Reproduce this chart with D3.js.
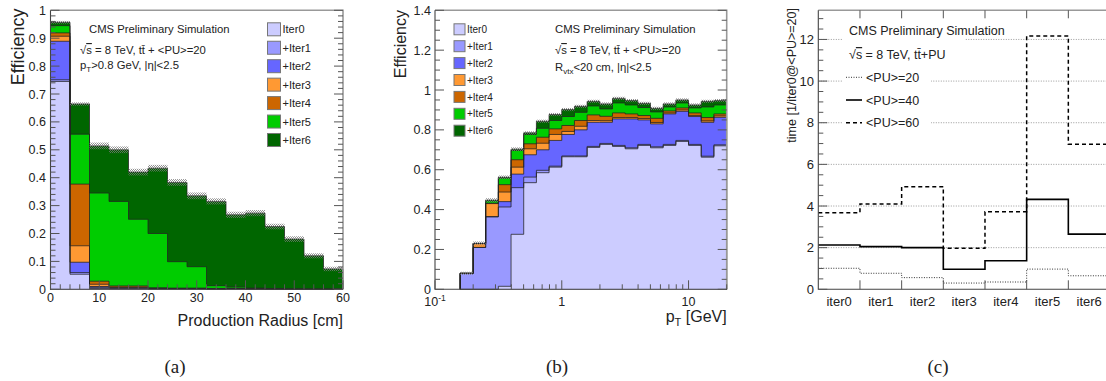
<!DOCTYPE html>
<html><head><meta charset="utf-8">
<script src="https://cdn.jsdelivr.net/npm/d3@7"></script>
<style>
html,body{margin:0;padding:0;background:#fff;}
svg{display:block;}
text{font-family:"Liberation Sans",Arial,Helvetica,sans-serif;fill:#222;}
</style></head><body>
<svg id="chart" width="1106" height="381"></svg>
<script>
// ================= DATA =================
const iterNames = ["Iter0","+Iter1","+Iter2","+Iter3","+Iter4","+Iter5","+Iter6"];

// ---- Panel (a): cumulative efficiency vs production radius (bins of 4 cm) ----
const aEdges = [0,4,8,12,16,20,24,28,32,36,40,44,48,52,56,60];
const aIter0 = [0.745,0.054,0.003,0.002,0.002,0.001,0.001,0.001,0.0005,0.001,0.0005,0,0,0,0];
const aIter1 = [0.751,0.060,0.007,0.004,0.004,0.002,0.002,0.002,0.001,0.002,0.001,0.0005,0,0,0];
const aIter2 = [0.889,0.097,0.010,0.006,0.006,0.003,0.003,0.003,0.002,0.003,0.002,0.001,0,0,0];
const aIter3 = [0.907,0.156,0.018,0.008,0.008,0.004,0.003,0.003,0.002,0.003,0.002,0.001,0,0,0];
const aIter4 = [0.919,0.377,0.029,0.012,0.012,0.005,0.004,0.004,0.003,0.004,0.002,0.001,0,0,0];
const aIter5 = [0.945,0.556,0.345,0.315,0.251,0.200,0.099,0.081,0.013,0.009,0.004,0.002,0.001,0,0];
const aIter6 = [0.957,0.664,0.514,0.500,0.420,0.434,0.383,0.335,0.315,0.267,0.273,0.225,0.180,0.120,0.073];
const aErr   = [0.005,0.006,0.012,0.012,0.012,0.012,0.012,0.012,0.011,0.011,0.011,0.010,0.010,0.009,0.008];

// ---- Panel (b): cumulative efficiency vs pT (log bins) ----
const bEdges = [0.158,0.2,0.251,0.316,0.398,0.501,0.631,0.794,1,1.259,1.585,1.995,2.512,3.162,3.981,5.012,6.31,7.943,10,12.59,15.85,19.95];
const bIter0 = [0,0,0,0.015,0.276,0.535,0.585,0.613,0.665,0.665,0.712,0.727,0.717,0.705,0.722,0.710,0.722,0.742,0.722,0.663,0.720];
const bIter1 = [0.080,0.210,0.363,0.413,0.510,0.563,0.597,0.618,0.669,0.669,0.717,0.732,0.722,0.710,0.727,0.715,0.727,0.747,0.727,0.668,0.725];
const bIter2 = [0.080,0.210,0.365,0.440,0.578,0.675,0.700,0.747,0.777,0.800,0.838,0.838,0.855,0.855,0.850,0.830,0.880,0.893,0.867,0.838,0.863];
const bIter3 = [0.080,0.230,0.430,0.488,0.613,0.705,0.733,0.777,0.792,0.818,0.847,0.846,0.862,0.862,0.857,0.837,0.885,0.900,0.872,0.845,0.870];
const bIter4 = [0.080,0.230,0.432,0.525,0.650,0.730,0.763,0.805,0.822,0.847,0.875,0.868,0.885,0.880,0.872,0.858,0.895,0.910,0.885,0.862,0.880];
const bIter5 = [0.080,0.230,0.444,0.558,0.697,0.777,0.808,0.847,0.867,0.888,0.920,0.905,0.935,0.925,0.912,0.890,0.915,0.935,0.910,0.915,0.925];
const bIter6 = [0.080,0.230,0.447,0.562,0.703,0.785,0.843,0.877,0.902,0.918,0.943,0.930,0.958,0.947,0.933,0.908,0.930,0.950,0.925,0.943,0.947];
const bErr   = [0.008,0.010,0.010,0.009,0.009,0.008,0.008,0.008,0.008,0.008,0.008,0.008,0.008,0.008,0.008,0.008,0.008,0.008,0.008,0.008,0.008];

// ---- Panel (c): timing per iteration ----
const cCats = ["iter0","iter1","iter2","iter3","iter4","iter5","iter6"];
const cPU20 = [1.01,0.77,0.56,0.30,0.35,0.97,0.65];
const cPU40 = [2.13,2.05,2.00,0.96,1.37,4.32,2.65];
const cPU60 = [3.68,4.10,4.93,1.97,3.73,12.17,6.97];
const cLegend = ["<PU>=20","<PU>=40","<PU>=60"];

// ================= STYLE =================
const iterColors = ["#ccccff","#9999ff","#6666ff","#ff9933","#cc6600","#00cc00","#006600"];
const svg = d3.select("#chart");
const defs = svg.append("defs");
const pat = defs.append("pattern").attr("id","hatch").attr("width",2).attr("height",2).attr("patternUnits","userSpaceOnUse");
pat.append("rect").attr("width",1).attr("height",1).attr("fill","#777");
pat.append("rect").attr("x",1).attr("y",1).attr("width",1).attr("height",1).attr("fill","#777");

function stepPoints(edges, vals){
  const pts=[[edges[0],0]];
  vals.forEach((v,i)=>{pts.push([edges[i],v]);pts.push([edges[i+1],v]);});
  pts.push([edges[edges.length-1],0]);
  return pts;
}
function drawStack(g, x, y, edges, layers, err){
  const area = d3.area().x(d=>x(d[0])).y0(y(0)).y1(d=>y(d[1]));
  const line = d3.line().x(d=>x(d[0])).y(d=>y(d[1]));
  for(let k=layers.length-1;k>=0;k--)
    g.append("path").attr("d",area(stepPoints(edges,layers[k]))).attr("fill",iterColors[k]);
  layers.forEach(l=>g.append("path").attr("d",line(stepPoints(edges,l)))
    .attr("fill","none").attr("stroke","#222").attr("stroke-width",0.9).attr("opacity",0.85));
  const top = layers[layers.length-1];
  g.selectAll(null).data(top).join("rect")
    .attr("x",(d,i)=>x(edges[i])).attr("width",(d,i)=>x(edges[i+1])-x(edges[i]))
    .attr("y",(d,i)=>y(d+err[i])).attr("height",(d,i)=>y(d-err[i])-y(d+err[i]))
    .attr("fill","url(#hatch)").attr("opacity",0.8);
}
function frame(x0,x1,y0,y1){
  svg.append("path").attr("d",`M${x0},${y1}H${x1}V${y0}`).attr("fill","none").attr("stroke","#999").attr("stroke-width",1.6);
  svg.append("path").attr("d",`M${x0},${y1}V${y0}H${x1}`).attr("fill","none").attr("stroke","#444").attr("stroke-width",1.1);
}
function yTicks(y, x0, x1, majors, minors, fmt, lblX, fs, both){
  const g = svg.append("g").attr("stroke","#555").attr("stroke-width",1);
  majors.forEach(v=>{
    g.append("line").attr("x1",x0).attr("x2",x0+9).attr("y1",y(v)).attr("y2",y(v));
    if(both) g.append("line").attr("x1",x1).attr("x2",x1-9).attr("y1",y(v)).attr("y2",y(v));
  });
  minors.forEach(v=>{
    g.append("line").attr("x1",x0).attr("x2",x0+5).attr("y1",y(v)).attr("y2",y(v));
    if(both) g.append("line").attr("x1",x1).attr("x2",x1-5).attr("y1",y(v)).attr("y2",y(v));
  });
  svg.append("g").selectAll("text").data(majors).join("text")
    .attr("x",lblX).attr("y",d=>y(d)+4.5).attr("text-anchor","end").attr("font-size",fs).text(fmt);
}
function xTicks(x, y0, majors, minors){
  const g = svg.append("g").attr("stroke","#555").attr("stroke-width",1);
  majors.forEach(v=>g.append("line").attr("x1",x(v)).attr("x2",x(v)).attr("y1",y0).attr("y2",y0-9));
  minors.forEach(v=>g.append("line").attr("x1",x(v)).attr("x2",x(v)).attr("y1",y0).attr("y2",y0-5));
}
function rotTitle(txt, x, yTop, fs){
  svg.append("text").attr("transform",`translate(${x},${yTop}) rotate(-90)`)
    .attr("text-anchor","end").attr("font-size",fs).text(txt);
}
function legendBoxes(x, y0, dy, size, fs){
  iterNames.forEach((n,i)=>{
    svg.append("rect").attr("x",x).attr("y",y0+i*dy-size/2).attr("width",size).attr("height",size)
      .attr("fill",iterColors[i]).attr("stroke","#777").attr("stroke-width",1);
    svg.append("text").attr("x",x+size+2).attr("y",y0+i*dy+fs*0.36).attr("font-size",fs).text(n);
  });
}
function sqrtLine(x, y, fs, rest){
  const t = svg.append("text").attr("x",x).attr("y",y).attr("font-size",fs);
  t.append("tspan").text("√");
  t.append("tspan").attr("text-decoration","overline").text("s");
  t.append("tspan").text(rest);
  return t;
}

// ================= PANEL (a) =================
const xa = d3.scaleLinear([0,60],[50.5,343]);
const ya = d3.scaleLinear([0,1],[289.3,10.3]);
drawStack(svg.append("g"), xa, ya, aEdges, [aIter0,aIter1,aIter2,aIter3,aIter4,aIter5,aIter6], aErr);
frame(50.5,343,289.3,10.3);
yTicks(ya,50.5,343,d3.range(0,1.001,0.1),d3.range(0,1.001,0.02).filter(v=>Math.abs(v*10-Math.round(v*10))>1e-6),
  d=>+d.toFixed(1)+"",46,12.5,true);
xTicks(xa,289.3,d3.range(0,61,10),d3.range(0,61,2).filter(v=>v%10));
svg.append("g").selectAll("text").data(d3.range(0,61,10)).join("text")
  .attr("x",d=>xa(d)).attr("y",302).attr("text-anchor","middle").attr("font-size",12.5).text(d=>d);
svg.append("text").attr("x",343).attr("y",326).attr("text-anchor","end").attr("font-size",16).text("Production Radius [cm]");
rotTitle("Efficiency",24,8.5,18);
svg.append("text").attr("x",89).attr("y",33).attr("font-size",11.3).text("CMS Preliminary Simulation");
sqrtLine(80,54,11.3," = 8 TeV, tt\u0304 + <PU>=20");
{ const t=svg.append("text").attr("x",80).attr("y",69).attr("font-size",11.3);
  t.append("tspan").text("p"); t.append("tspan").attr("font-size",8).attr("dy",3).text("T");
  t.append("tspan").attr("dy",-3).text(">0.8 GeV, |η|<2.5"); }
legendBoxes(267.5,29.3,18.45,13,11);

// ================= PANEL (b) =================
const xb = d3.scaleLog([0.1,20],[435,726.7]);
const yb = d3.scaleLinear([0,1.4],[289.3,10.3]);
drawStack(svg.append("g"), xb, yb, bEdges, [bIter0,bIter1,bIter2,bIter3,bIter4,bIter5,bIter6], bErr);
frame(435,726.7,289.3,10.3);
yTicks(yb,435,726.7,d3.range(0,1.401,0.2),d3.range(0,1.401,0.05).filter(v=>Math.abs(v*5-Math.round(v*5))>1e-6),
  d=>+d.toFixed(1)+"",431,12.5,true);
const bMaj=[0.1,1,10], bMin=[];
[0.1,1,10].forEach(dec=>{for(let m=2;m<=9;m++){const v=dec*m; if(v<=20) bMin.push(v);}});
xTicks(xb,289.3,bMaj,bMin);
{ const t=svg.append("text").attr("x",xb(0.1)).attr("y",306).attr("text-anchor","middle").attr("font-size",12.5);
  t.append("tspan").text("10"); t.append("tspan").attr("font-size",8.5).attr("dy",-5).text("-1"); }
svg.append("text").attr("x",xb(1)).attr("y",306).attr("text-anchor","middle").attr("font-size",12.5).text("1");
svg.append("text").attr("x",xb(10)).attr("y",306).attr("text-anchor","middle").attr("font-size",12.5).text("10");
{ const t=svg.append("text").attr("x",726.7).attr("y",322).attr("text-anchor","end").attr("font-size",16);
  t.append("tspan").text("p"); t.append("tspan").attr("font-size",11).attr("dy",4).text("T");
  t.append("tspan").attr("dy",-4).text(" [GeV]"); }
rotTitle("Efficiency",406,10,16);
svg.append("text").attr("x",555).attr("y",33).attr("font-size",11.3).text("CMS Preliminary Simulation");
sqrtLine(555,54,11.3," = 8 TeV, tt\u0304 + <PU>=20");
{ const t=svg.append("text").attr("x",555).attr("y",71).attr("font-size",11.3);
  t.append("tspan").text("R"); t.append("tspan").attr("font-size",8).attr("dy",3).text("vtx");
  t.append("tspan").attr("dy",-3).text("<20 cm, |η|<2.5"); }
legendBoxes(454,29.3,16.9,11,10);

// ================= PANEL (c) =================
const xc = d3.scaleBand(cCats,[818.3,1110]);
const yc = d3.scaleLinear([0,13.4],[289.3,10.3]);
const gridVals = d3.range(2,13,2);
svg.append("g").selectAll("line").data(gridVals).join("line")
  .attr("x1",818.3).attr("x2",1110).attr("y1",d=>yc(d)).attr("y2",d=>yc(d))
  .attr("stroke","#999").attr("stroke-width",1).attr("stroke-dasharray","1,1.5");
// legend / text backgrounds
svg.append("rect").attr("x",843).attr("y",20).attr("width",122).attr("height",46).attr("fill","#fff");
svg.append("rect").attr("x",843).attr("y",66).attr("width",88).attr("height",69).attr("fill","#fff");
const cEdges = cCats.map(c=>xc(c)).concat([xc(cCats[cCats.length-1])+xc.bandwidth()]);
function cStep(vals){ const p=[]; vals.forEach((v,i)=>{p.push([cEdges[i],v]);p.push([cEdges[i+1],v]);}); return p; }
const cLine = d3.line().x(d=>d[0]).y(d=>yc(d[1]));
const cStyles = [{w:1,dash:"1,1.5",col:"#333"},{w:1.6,dash:null,col:"#000"},{w:1.5,dash:"4,3",col:"#000"}];
[cPU20,cPU40,cPU60].forEach((s,i)=>{
  svg.append("path").attr("d",cLine(cStep(s))).attr("fill","none").attr("stroke",cStyles[i].col)
    .attr("stroke-width",cStyles[i].w).attr("stroke-dasharray",cStyles[i].dash);
});
// frame c
svg.append("path").attr("d",`M818.3,10.3H1110`).attr("stroke","#999").attr("stroke-width",1.6);
svg.append("path").attr("d",`M818.3,10.3V289.3H1110`).attr("fill","none").attr("stroke","#444").attr("stroke-width",1.1);
yTicks(yc,818.3,1110,d3.range(0,13,2),d3.range(0.5,13.4,0.5).filter(v=>v%2),d=>d,814,13,false);
{ const g=svg.append("g").attr("stroke","#555").attr("stroke-width",1);
  cEdges.slice(1).forEach(x=>{
    g.append("line").attr("x1",x).attr("x2",x).attr("y1",289.3).attr("y2",280.3);
    g.append("line").attr("x1",x).attr("x2",x).attr("y1",10.3).attr("y2",18.3);
  }); }
svg.append("g").selectAll("text").data(cCats).join("text")
  .attr("x",d=>xc(d)+xc.bandwidth()/2).attr("y",306).attr("text-anchor","middle").attr("font-size",13).text(d=>d);
rotTitle("time [1/iter0@<PU>=20]",796,8,12.5);
svg.append("text").attr("x",849).attr("y",34.5).attr("font-size",12.5).text("CMS Preliminary Simulation");
sqrtLine(849,59,12.5," = 8 TeV, tt\u0304+PU");
const cLegY=[77.3,100,122.7];
cLegend.forEach((n,i)=>{
  svg.append("line").attr("x1",846).attr("x2",862).attr("y1",cLegY[i]).attr("y2",cLegY[i])
    .attr("stroke",cStyles[i].col).attr("stroke-width",cStyles[i].w).attr("stroke-dasharray",cStyles[i].dash);
  svg.append("text").attr("x",866).attr("y",cLegY[i]+4.5).attr("font-size",12.5).text(n);
});

// ================= captions =================
[["(a)",175],["(b)",557],["(c)",938]].forEach(([t,x])=>{
  svg.append("text").attr("x",x).attr("y",373).attr("text-anchor","middle")
    .style("font-family","'Liberation Serif','Times New Roman',serif").attr("font-size",19).text(t);
});
</script>
</body></html>
